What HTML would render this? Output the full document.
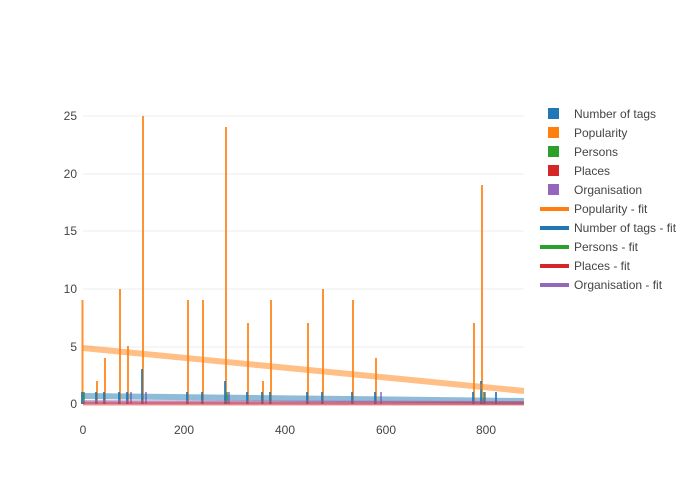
<!DOCTYPE html>
<html><head><style>body{margin:0;background:#fff}svg{display:block}text{font-family:"Liberation Sans",sans-serif;fill:#444;font-size:12px}</style></head><body>
<svg width="700" height="500" xmlns="http://www.w3.org/2000/svg">
<g stroke="#eee" stroke-width="1">
<line x1="83" x2="524" y1="347" y2="347"/><line x1="83" x2="524" y1="289" y2="289"/><line x1="83" x2="524" y1="231" y2="231"/><line x1="83" x2="524" y1="174" y2="174"/><line x1="83" x2="524" y1="116" y2="116"/>
<line x1="184" x2="184" y1="100" y2="404" stroke="none"/>
</g>
<g text-anchor="end"><text x="77" y="408">0</text><text x="77" y="351">5</text><text x="77" y="293">10</text><text x="77" y="235">15</text><text x="77" y="178">20</text><text x="77" y="120">25</text></g>
<g text-anchor="middle"><text x="83" y="434">0</text><text x="184" y="434">200</text><text x="285" y="434">400</text><text x="386" y="434">600</text><text x="486" y="434">800</text></g>
<g stroke="#ff7f0e" stroke-width="2" stroke-opacity="0.85">
<line x1="82.5" x2="82.5" y1="404" y2="300"/><line x1="97" x2="97" y1="404" y2="381"/><line x1="105" x2="105" y1="404" y2="358"/><line x1="120" x2="120" y1="404" y2="289"/><line x1="128" x2="128" y1="404" y2="346"/><line x1="143" x2="143" y1="404" y2="116"/><line x1="188" x2="188" y1="404" y2="300"/><line x1="203" x2="203" y1="404" y2="300"/><line x1="226" x2="226" y1="404" y2="127"/><line x1="248" x2="248" y1="404" y2="323"/><line x1="263" x2="263" y1="404" y2="381"/><line x1="271" x2="271" y1="404" y2="300"/><line x1="308" x2="308" y1="404" y2="323"/><line x1="323" x2="323" y1="404" y2="289"/><line x1="353" x2="353" y1="404" y2="300"/><line x1="376" x2="376" y1="404" y2="358"/><line x1="474" x2="474" y1="404" y2="323"/><line x1="482" x2="482" y1="404" y2="185"/>
</g>
<g stroke="#1f77b4" stroke-width="2" stroke-opacity="0.85">
<line x1="82" x2="82" y1="404" y2="392"/><line x1="96" x2="96" y1="404" y2="392"/><line x1="104" x2="104" y1="404" y2="392"/><line x1="119" x2="119" y1="404" y2="392"/><line x1="127" x2="127" y1="404" y2="392"/><line x1="142" x2="142" y1="404" y2="369"/><line x1="187" x2="187" y1="404" y2="392"/><line x1="202" x2="202" y1="404" y2="392"/><line x1="225" x2="225" y1="404" y2="381"/><line x1="247" x2="247" y1="404" y2="392"/><line x1="262" x2="262" y1="404" y2="392"/><line x1="270" x2="270" y1="404" y2="392"/><line x1="307" x2="307" y1="404" y2="392"/><line x1="322" x2="322" y1="404" y2="392"/><line x1="352" x2="352" y1="404" y2="392"/><line x1="375" x2="375" y1="404" y2="392"/><line x1="473" x2="473" y1="404" y2="392"/><line x1="481" x2="481" y1="404" y2="381"/><line x1="496" x2="496" y1="404" y2="392"/>
</g>
<g stroke="#9467bd" stroke-width="1.5"><line x1="131" x2="131" y1="404" y2="392"/><line x1="146" x2="146" y1="404" y2="392"/><line x1="229" x2="229" y1="404" y2="392"/><line x1="381" x2="381" y1="404" y2="392"/><line x1="485" x2="485" y1="404" y2="392"/></g>
<g stroke="#2ca02c" stroke-width="1.5"><line x1="84" x2="84" y1="404" y2="392"/><line x1="227" x2="227" y1="404" y2="392"/><line x1="484" x2="484" y1="404" y2="392"/></g>
<line x1="83" y1="348" x2="524" y2="391" stroke="#ff7f0e" stroke-opacity="0.5" stroke-width="6"/>
<line x1="83" y1="396" x2="524" y2="401" stroke="#1f77b4" stroke-opacity="0.5" stroke-width="6"/>
<line x1="83" y1="402" x2="524" y2="403" stroke="#9467bd" stroke-opacity="0.5" stroke-width="4"/>
<line x1="83" y1="403.5" x2="524" y2="403.5" stroke="#d62728" stroke-opacity="0.5" stroke-width="4"/>
<g>
<rect x="548" y="108" width="11" height="11" fill="#1f77b4"/><rect x="548" y="127" width="11" height="11" fill="#ff7f0e"/><rect x="548" y="146" width="11" height="11" fill="#2ca02c"/><rect x="548" y="165" width="11" height="11" fill="#d62728"/><rect x="548" y="184" width="11" height="11" fill="#9467bd"/>
<g stroke-width="4"><line x1="540" x2="569" y1="209" y2="209" stroke="#ff7f0e"/><line x1="540" x2="569" y1="228" y2="228" stroke="#1f77b4"/><line x1="540" x2="569" y1="247" y2="247" stroke="#2ca02c"/><line x1="540" x2="569" y1="266" y2="266" stroke="#d62728"/><line x1="540" x2="569" y1="285" y2="285" stroke="#9467bd"/></g>
<text x="574" y="118">Number of tags</text><text x="574" y="137">Popularity</text><text x="574" y="156">Persons</text><text x="574" y="175">Places</text><text x="574" y="194">Organisation</text><text x="574" y="213">Popularity - fit</text><text x="574" y="232">Number of tags - fit</text><text x="574" y="251">Persons - fit</text><text x="574" y="270">Places - fit</text><text x="574" y="289">Organisation - fit</text>
</g>
</svg></body></html>
